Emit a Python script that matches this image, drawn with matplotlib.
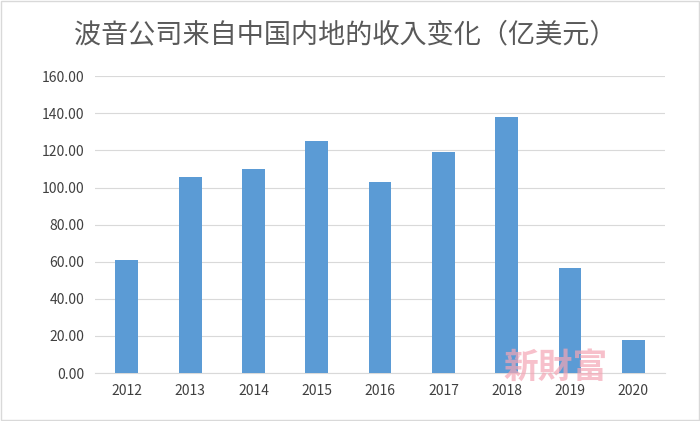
import matplotlib.pyplot as plt
from matplotlib import font_manager
import numpy as np

years = ['2012', '2013', '2014', '2015', '2016', '2017', '2018', '2019', '2020']
revenue = [60.8, 105.5, 110.2, 125.3, 103.0, 119.0, 137.8, 56.8, 18.0]
yticks = [0, 20, 40, 60, 80, 100, 120, 140, 160]

names = {f.name for f in font_manager.fontManager.ttflist}
cjk = [n for n in ['Noto Sans CJK SC', 'Noto Sans CJK JP', 'Noto Sans CJK TC',
                   'Noto Sans CJK KR'] if n in names]
plt.rcParams['font.family'] = cjk + ['DejaVu Sans']

fig = plt.figure(figsize=(7, 4.21), dpi=100)
ax = fig.add_axes([0.136, 0.114, 0.814, 0.705])

x = np.arange(len(years))
ax.bar(x, revenue, width=0.36, color='#5B9BD5', zorder=3)

ax.set_xlim(-0.5, len(years) - 0.5)
ax.set_ylim(0, 160)
ax.set_yticks(yticks)
ax.set_yticklabels([f'{v:.2f}' for v in yticks], fontsize=10, color='#404040')
ax.set_xticks(x)
ax.set_xticklabels(years, fontsize=10, color='#404040')
ax.grid(axis='y', color='#D9D9D9', linewidth=0.8, zorder=0)
for s in ['top', 'right', 'left']:
    ax.spines[s].set_visible(False)
ax.spines['bottom'].set_color('#D9D9D9')
ax.tick_params(length=0, pad=8)

fig.text(0.493, 0.918, '波音公司来自中国内地的收入变化（亿美元）', ha='center', va='center',
         fontsize=19.5, color='#595959')
fig.text(0.793, 0.127, '新財富', ha='center', va='center', fontsize=25,
         color='#F4A6B5', alpha=0.7, fontweight='bold')

fig.patches.append(plt.Rectangle((0.002, 0.002), 0.996, 0.996, transform=fig.transFigure,
                                 fill=False, edgecolor='#D9D9D9', linewidth=1))

fig.savefig('out.png', dpi=100)
